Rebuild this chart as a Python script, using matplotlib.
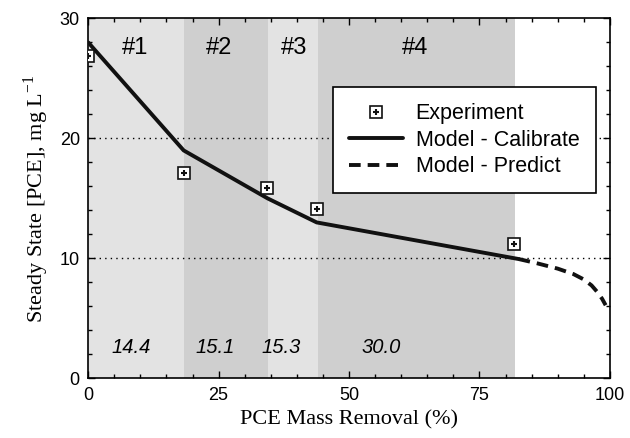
import numpy as np
import matplotlib
matplotlib.use('Agg')
import matplotlib.pyplot as plt
from matplotlib.ticker import MultipleLocator
from matplotlib.legend_handler import HandlerTuple

plt.rcParams['mathtext.fontset'] = 'custom'
plt.rcParams['mathtext.rm'] = 'Liberation Serif'

# stage boundaries (% mass removal) and shading
band_edges = [0, 18.3, 34.4, 44.1, 81.9]
band_colors = ['#e3e3e3', '#cfcfcf', '#e3e3e3', '#cfcfcf']
band_names = ['#1', '#2', '#3', '#4']
band_name_x = [8.9, 25.1, 39.4, 62.6]
band_values = ['14.4', '15.1', '15.3', '30.0']
band_value_x = [8.2, 24.3, 36.9, 56.2]

# experiment
exp_x = [0, 18.3, 34.2, 43.9, 81.7]
exp_y = [26.9, 17.1, 15.9, 14.1, 11.2]

# model - calibrate
cal_x = [0, 18.3, 34.4, 43.8, 82.5]
cal_y = [28.0, 19.0, 15.0, 13.0, 9.95]

# model - predict
pred_x = [82.5, 86, 90, 93, 95, 96.5, 97.5, 98.5, 99.2]
pred_y = [9.95, 9.6, 9.15, 8.7, 8.25, 7.75, 7.25, 6.65, 6.1]

fig = plt.figure(figsize=(6.3, 4.38), dpi=100)
ax = fig.add_axes([0.140, 0.136, 0.828, 0.822])

for i in range(4):
    ax.axvspan(band_edges[i], band_edges[i+1], color=band_colors[i], lw=0, zorder=0)
    ax.text(band_name_x[i], 27.5, band_names[i], ha='center', va='center',
            fontsize=17, family='Liberation Sans', zorder=2)
    ax.text(band_value_x[i], 2.6, band_values[i], ha='center', va='center',
            fontsize=14.5, style='italic', family='Liberation Sans', zorder=2)

ax.axhline(10, color='k', ls=(0, (1, 3)), lw=1, zorder=1)
ax.axhline(20, color='k', ls=(0, (1, 3)), lw=1, zorder=1)

l_cal, = ax.plot(cal_x, cal_y, color='#111111', lw=2.8, solid_capstyle='round', zorder=3)
l_pred, = ax.plot(pred_x, pred_y, color='#111111', lw=2.8, ls=(0, (3, 1.8)), zorder=3)
m_sq, = ax.plot(exp_x, exp_y, 's', ms=8, mfc='white', mec='#111111', mew=1.2,
                ls='none', zorder=4)
m_pl, = ax.plot(exp_x, exp_y, '+', ms=4, mec='#111111', mew=1.5, ls='none', zorder=5)

ax.set_xlim(0, 100)
ax.set_ylim(0, 30)
ax.xaxis.set_major_locator(MultipleLocator(25))
ax.xaxis.set_minor_locator(MultipleLocator(5))
ax.yaxis.set_major_locator(MultipleLocator(10))
ax.yaxis.set_minor_locator(MultipleLocator(2))
ax.tick_params(which='both', direction='in', top=True, right=True, width=1)
ax.tick_params(which='major', length=5, labelsize=13, pad=6)
ax.tick_params(which='minor', length=3)
for lab in ax.get_xticklabels() + ax.get_yticklabels():
    lab.set_family('Liberation Sans')
for s in ax.spines.values():
    s.set_linewidth(1.2)

ax.set_xlabel('PCE Mass Removal (%)', family='Liberation Serif', fontsize=16, labelpad=5)
ax.set_ylabel('Steady State [PCE], mg L$^{-1}$', family='Liberation Serif', fontsize=16,
              labelpad=6)

leg = ax.legend([(m_sq, m_pl), l_cal, l_pred],
                ['Experiment', 'Model - Calibrate', 'Model - Predict'],
                handler_map={tuple: HandlerTuple(ndivide=1, pad=0)},
                loc='upper left', bbox_to_anchor=(0.469, 0.809),
                prop={'family': 'Liberation Sans', 'size': 15.5},
                fancybox=False, framealpha=1, edgecolor='k',
                handlelength=2.5, borderpad=0.75, borderaxespad=0,
                labelspacing=0.25, handletextpad=0.6)
leg.get_frame().set_linewidth(1.2)
leg.set_zorder(6)

fig.savefig('out.png', dpi=100)
